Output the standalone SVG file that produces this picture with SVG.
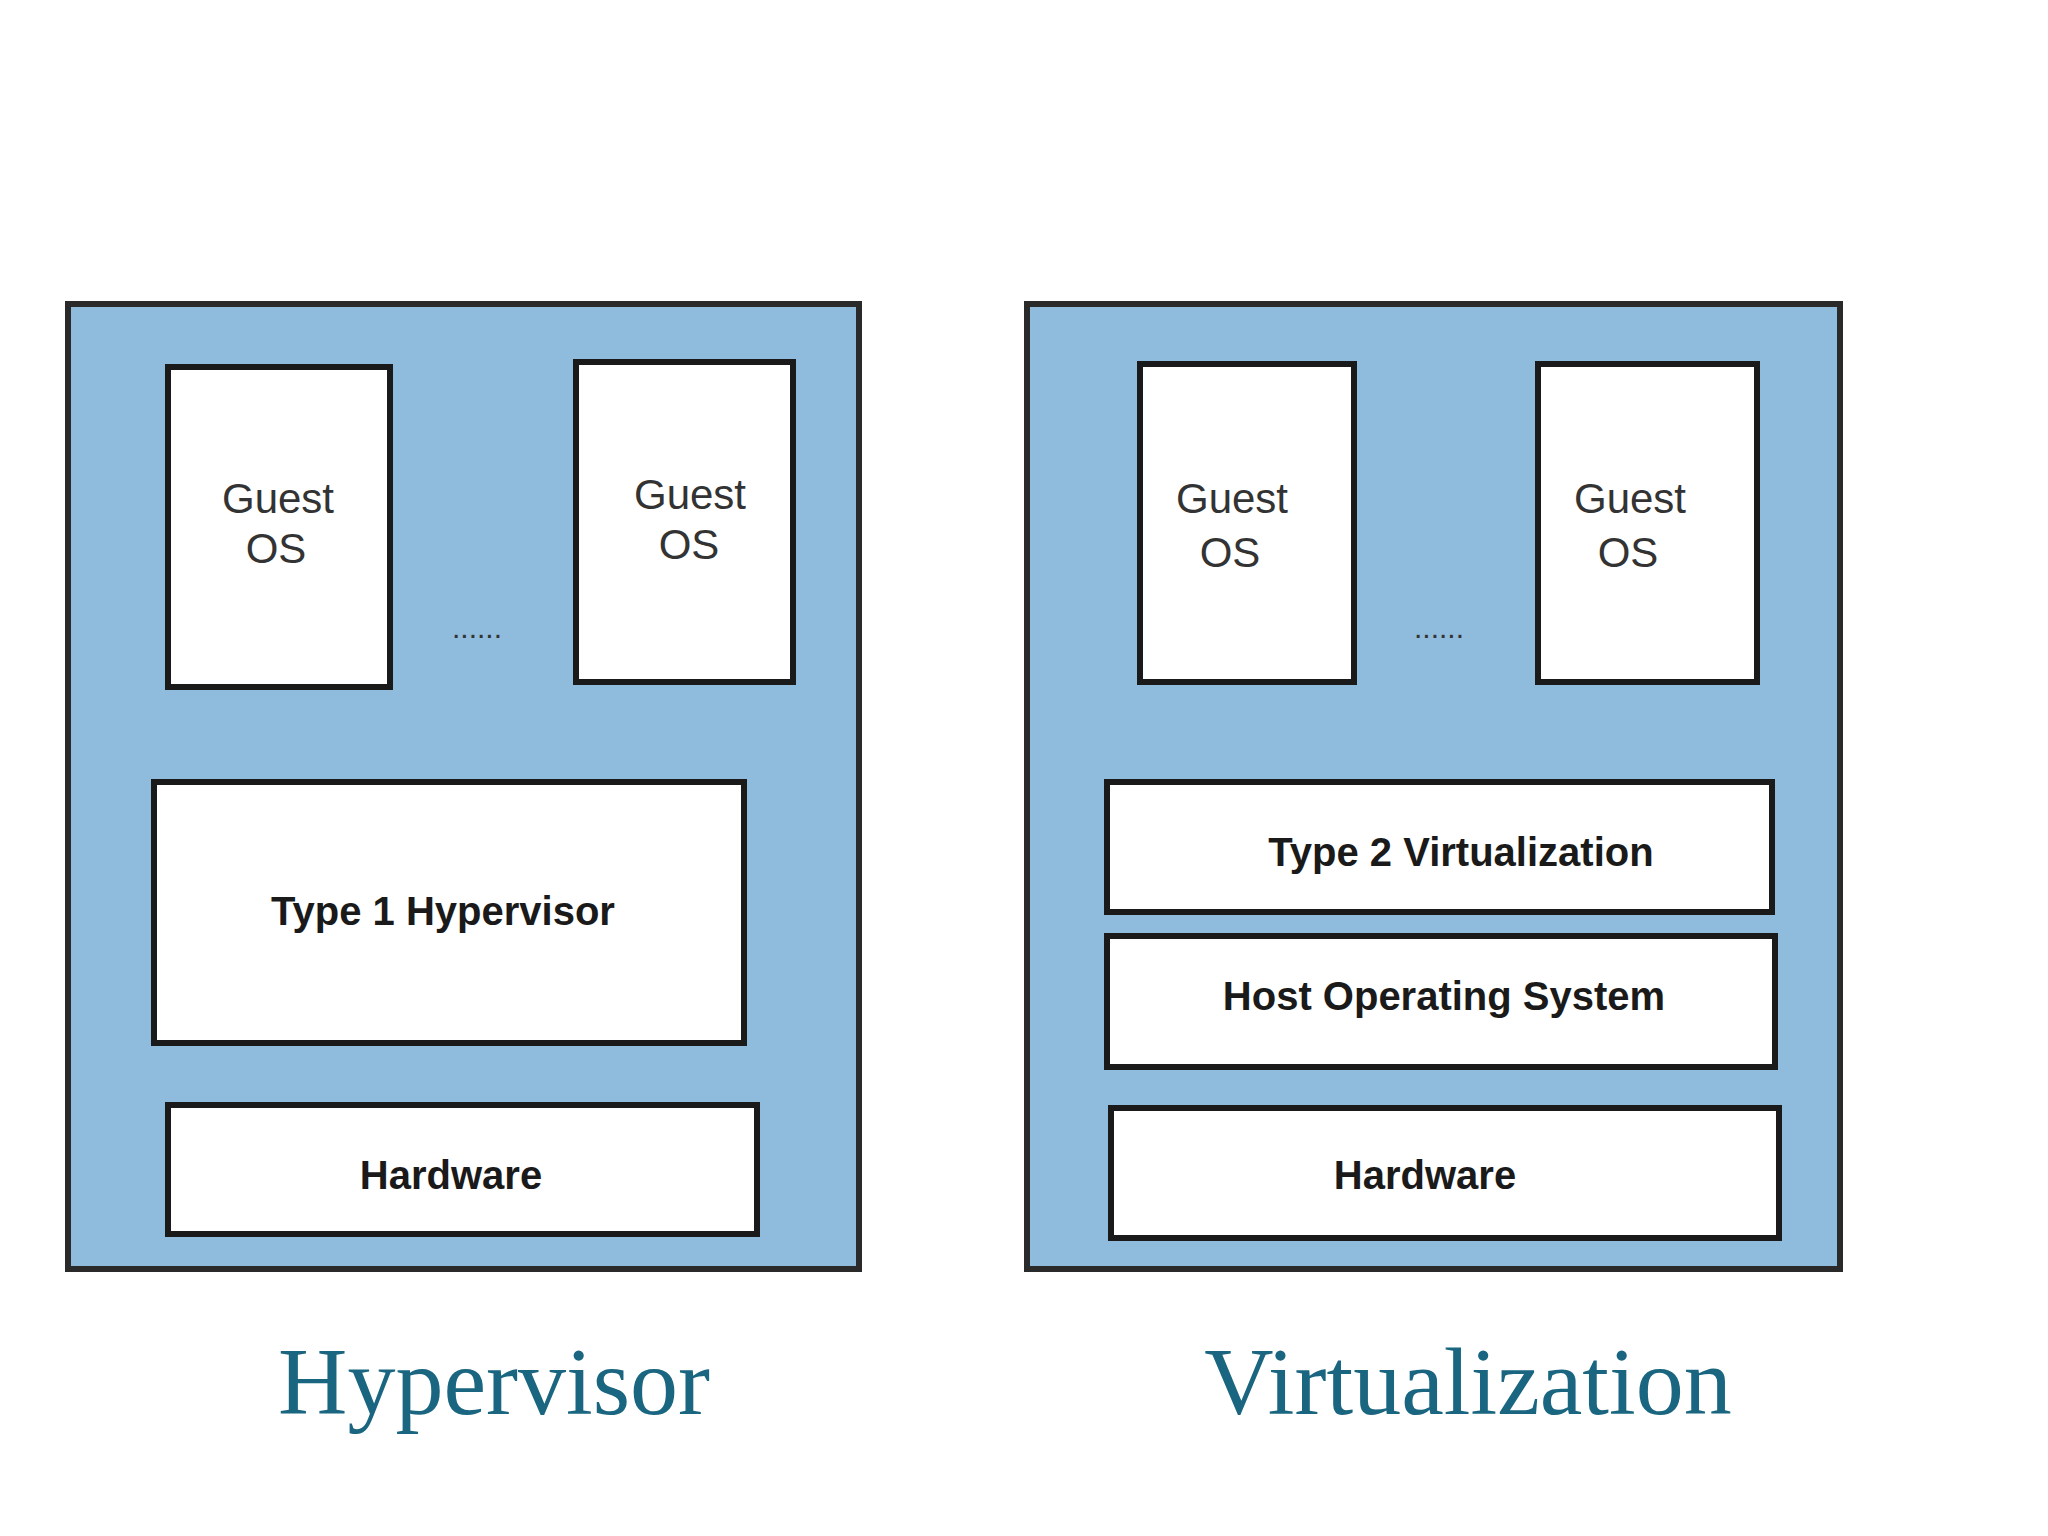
<svg xmlns="http://www.w3.org/2000/svg" width="2048" height="1536" viewBox="0 0 2048 1536">
<style>
.outer{fill:#8FBBDD;stroke:#2a2a2a;stroke-width:6}
.box{fill:#fff;stroke:#1a1a1a;stroke-width:6}
.g{font-family:"Liberation Sans",Arial,sans-serif;font-size:42px;fill:#333;text-anchor:middle}
.b{font-family:"Liberation Sans",Arial,sans-serif;font-size:40px;font-weight:bold;fill:#1a1a1a;text-anchor:middle}
.d{font-family:"Liberation Sans",Arial,sans-serif;font-size:30px;fill:#333;text-anchor:middle}
.t{font-family:"Liberation Serif","Times New Roman",serif;font-size:96px;fill:#1a6680;text-anchor:middle}
</style>
<rect width="2048" height="1536" fill="#fff"/>
<g id="hypervisor-panel"><rect class="outer" x="68" y="304" width="791" height="965"/></g>
<g id="guest1"><rect class="box" x="168" y="367" width="222" height="320"/><text class="g" x="278" y="513">Guest</text><text class="g" x="276" y="563">OS</text></g>
<g id="guest2"><rect class="box" x="576" y="362" width="217" height="320"/><text class="g" x="690" y="509">Guest</text><text class="g" x="689" y="559">OS</text></g>
<text class="d" x="477" y="638">......</text>
<g id="type1"><rect class="box" x="154" y="782" width="590" height="261"/><text class="b" x="443" y="925">Type 1 Hypervisor</text></g>
<g id="hardware1"><rect class="box" x="168" y="1105" width="589" height="129"/><text class="b" x="451" y="1189">Hardware</text></g>
<g id="virt-panel"><rect class="outer" x="1027" y="304" width="813" height="965"/></g>
<g id="guest3"><rect class="box" x="1140" y="364" width="214" height="318"/><text class="g" x="1232" y="513">Guest</text><text class="g" x="1230" y="567">OS</text></g>
<g id="guest4"><rect class="box" x="1538" y="364" width="219" height="318"/><text class="g" x="1630" y="513">Guest</text><text class="g" x="1628" y="567">OS</text></g>
<text class="d" x="1439" y="638">......</text>
<g id="type2"><rect class="box" x="1107" y="782" width="665" height="130"/><text class="b" x="1461" y="866">Type 2 Virtualization</text></g>
<g id="hostos"><rect class="box" x="1107" y="936" width="668" height="131"/><text class="b" x="1444" y="1010">Host Operating System</text></g>
<g id="hardware2"><rect class="box" x="1111" y="1108" width="668" height="130"/><text class="b" x="1425" y="1189">Hardware</text></g>
<g id="connectors"/>
<text class="t" x="494" y="1414">Hypervisor</text>
<text class="t" x="1468" y="1414">Virtualization</text>
</svg>
